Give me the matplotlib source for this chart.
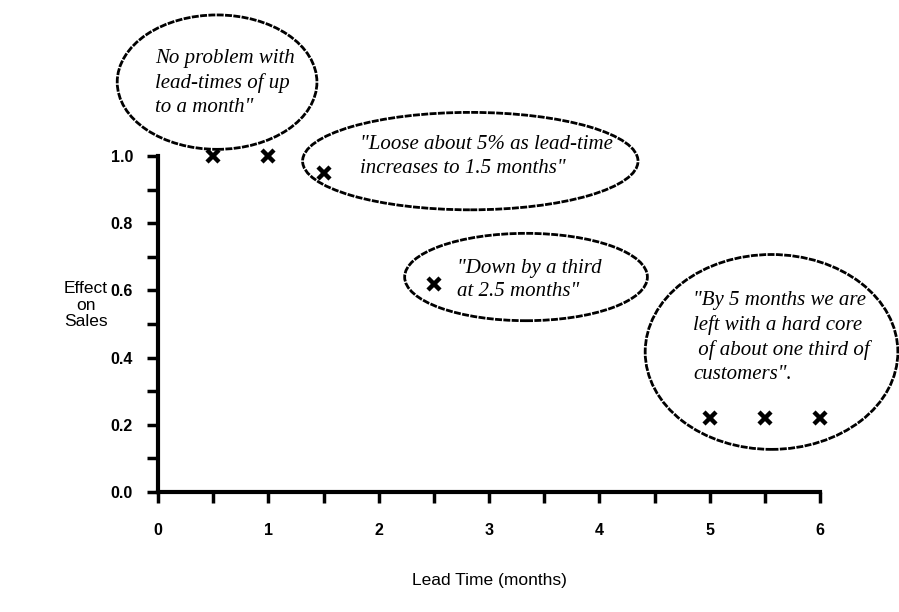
import matplotlib
matplotlib.use("Agg")
import matplotlib.pyplot as plt
from matplotlib.patches import Ellipse
import numpy as np

# Data
lead_time = [0.5, 1.0, 1.5, 2.5, 5.0, 5.5, 6.0]
effect = [1.0, 1.0, 0.95, 0.62, 0.22, 0.22, 0.22]
x_ticks = [0, 1, 2, 3, 4, 5, 6]
y_ticks = [0.0, 0.2, 0.4, 0.6, 0.8, 1.0]

quotes = [
    "No problem with\nlead-times of up\nto a month\"",
    "\"Loose about 5% as lead-time\nincreases to 1.5 months\"",
    "\"Down by a third\nat 2.5 months\"",
    "\"By 5 months we are\nleft with a hard core\n of about one third of\ncustomers\".",
]
quote_pos = [(-0.03, 1.217), (1.83, 1.0), (2.71, 0.631), (4.85, 0.461)]
# ellipse centre x, centre y, width, height
bubbles = [(0.535, 1.22, 1.81, 0.40), (2.83, 0.985, 3.04, 0.29),
           (3.335, 0.64, 2.20, 0.26), (5.56, 0.417, 2.29, 0.58)]

fig = plt.figure(figsize=(8.99, 6.12), dpi=100)
ax = fig.add_axes([0.1758, 0.196, 0.7364, 0.549])
ax.set_xlim(0, 6)
ax.set_ylim(0, 1.0)

for s in ["top", "right"]:
    ax.spines[s].set_visible(False)
for s in ["left", "bottom"]:
    ax.spines[s].set_linewidth(3)

ax.set_xticks(x_ticks)
ax.set_xticks(np.arange(0, 6.01, 0.5), minor=True)
ax.set_yticks(y_ticks)
ax.set_yticks(np.arange(0, 1.001, 0.1), minor=True)
ax.set_xticklabels([str(v) for v in x_ticks], fontweight="bold", fontsize=11.5,
                   family="Liberation Sans")
ax.set_yticklabels([f"{v:.1f}" for v in y_ticks], fontweight="bold", fontsize=11.5,
                   family="Liberation Sans")
ax.tick_params(axis="both", which="both", direction="out", length=8, width=2.5)
ax.tick_params(axis="x", pad=14)
ax.tick_params(axis="y", pad=10)

ax.plot(lead_time, effect, linestyle="none", marker="x", markersize=9,
        markeredgewidth=3.2, color="black", clip_on=False, zorder=5)

for (cx, cy, w, h) in bubbles:
    e = Ellipse((cx, cy), w, h, fill=False, edgecolor="black",
                linewidth=2, linestyle=(0, (2.5, 0.5)), clip_on=False)
    ax.add_patch(e)

for txt, (tx, ty) in zip(quotes, quote_pos):
    ax.text(tx, ty, txt, family="Liberation Serif", style="italic", fontsize=15,
            ha="left", va="center", linespacing=1.35, clip_on=False)

fig.text(86 / 899, 1 - 305 / 612, "Effect\non\nSales", ha="center", va="center",
         fontsize=12.5, family="Liberation Sans", linespacing=1.1)
fig.text(489 / 899, 1 - 580 / 612, "Lead Time (months)", ha="center", va="center",
         fontsize=12.5, family="Liberation Sans")

fig.savefig("out.png", dpi=100)
